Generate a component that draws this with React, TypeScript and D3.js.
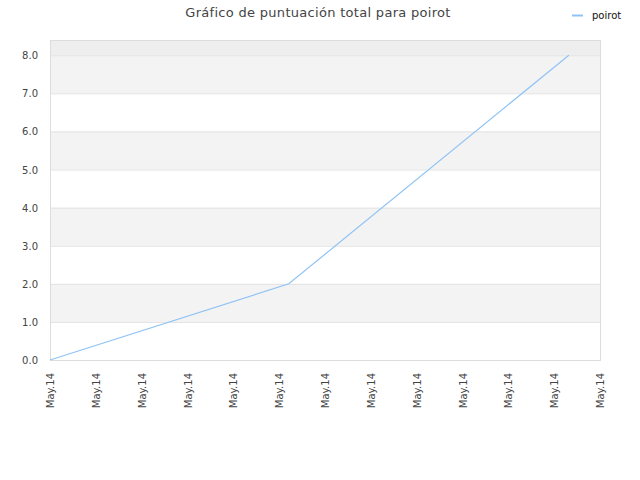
import { useRef, useEffect } from "react";
import * as d3 from "d3";

// x position is measured in tick slots (12 slots, all labelled "May.14")
const pointX = [0, 5.21, 11.32];
const pointY = [0, 2, 8];
const xTickLabels = Array.from({ length: 13 }, () => "May.14");
const yTicks = [0, 1, 2, 3, 4, 5, 6, 7, 8];
const seriesName = "poirot";
const title = "Gráfico de puntuación total para poirot";

const W = 640;
const H = 480;
const font = "DejaVu Sans, Verdana, sans-serif";

export default function App() {
  const svgRef = useRef<SVGSVGElement>(null);

  useEffect(() => {
    if (!svgRef.current) return;
    const svg = d3.select(svgRef.current);
    svg.selectAll("*").remove();

    const left = 50, right = 600, top = 40, bottom = 360;

    const x = d3.scaleLinear().domain([0, xTickLabels.length - 1]).range([left, right]);
    const y = d3.scaleLinear().domain([0, 8.4]).range([bottom, top]);

    // alternating bands
    const bands = yTicks.map((v, i) => ({ from: v, to: i === yTicks.length - 1 ? 8.4 : v + 1, i }));
    svg
      .append("g")
      .selectAll("rect")
      .data(bands)
      .join("rect")
      .attr("x", left)
      .attr("width", right - left)
      .attr("y", (d) => y(d.to))
      .attr("height", (d) => y(d.from) - y(d.to))
      .attr("fill", (d) => (d.i === yTicks.length - 1 ? "#eeeeee" : d.i % 2 === 1 ? "#f3f3f3" : "#ffffff"));

    // grid lines
    svg
      .append("g")
      .selectAll("line")
      .data(yTicks)
      .join("line")
      .attr("x1", left)
      .attr("x2", right)
      .attr("y1", (d) => y(d) + 0.5)
      .attr("y2", (d) => y(d) + 0.5)
      .attr("stroke", "#e2e2e2");

    // frame
    svg
      .append("rect")
      .attr("x", left + 0.5)
      .attr("y", top + 0.5)
      .attr("width", right - left)
      .attr("height", bottom - top)
      .attr("fill", "none")
      .attr("stroke", "#dddddd");

    // y labels
    svg
      .append("g")
      .selectAll("text")
      .data(yTicks)
      .join("text")
      .attr("x", 38)
      .attr("y", (d) => y(d) + 4)
      .attr("text-anchor", "end")
      .attr("font-family", font)
      .attr("font-size", 10)
      .attr("fill", "#444")
      .text((d) => d.toFixed(1));

    // x labels
    svg
      .append("g")
      .selectAll("text")
      .data(xTickLabels)
      .join("text")
      .attr("transform", (_d, i) => `translate(${x(i) + 4},${bottom + 13}) rotate(-90)`)
      .attr("text-anchor", "end")
      .attr("font-family", font)
      .attr("font-size", 10)
      .attr("fill", "#444")
      .text((d) => d);

    // series line
    const line = d3
      .line<number>()
      .x((_d, i) => x(pointX[i]))
      .y((d) => y(d));
    svg
      .append("path")
      .datum(pointY)
      .attr("d", line)
      .attr("fill", "none")
      .attr("stroke", "#90c3f5")
      .attr("stroke-width", 1.2);

    // title
    svg
      .append("text")
      .attr("x", 318)
      .attr("y", 17)
      .attr("text-anchor", "middle")
      .attr("font-family", font)
      .attr("font-size", 13)
      .attr("letter-spacing", 0.3)
      .attr("fill", "#444")
      .text(title);

    // legend
    svg
      .append("line")
      .attr("x1", 572)
      .attr("x2", 583)
      .attr("y1", 15.5)
      .attr("y2", 15.5)
      .attr("stroke", "#90c3f5")
      .attr("stroke-width", 2);
    svg
      .append("text")
      .attr("x", 592)
      .attr("y", 19)
      .attr("font-family", font)
      .attr("font-size", 10)
      .attr("fill", "#111")
      .text(seriesName);
  }, []);

  return (
    <svg
      ref={svgRef}
      width={W}
      height={H}
      style={{ position: "absolute", left: 0, top: 0, background: "#fff" }}
    />
  );
}
